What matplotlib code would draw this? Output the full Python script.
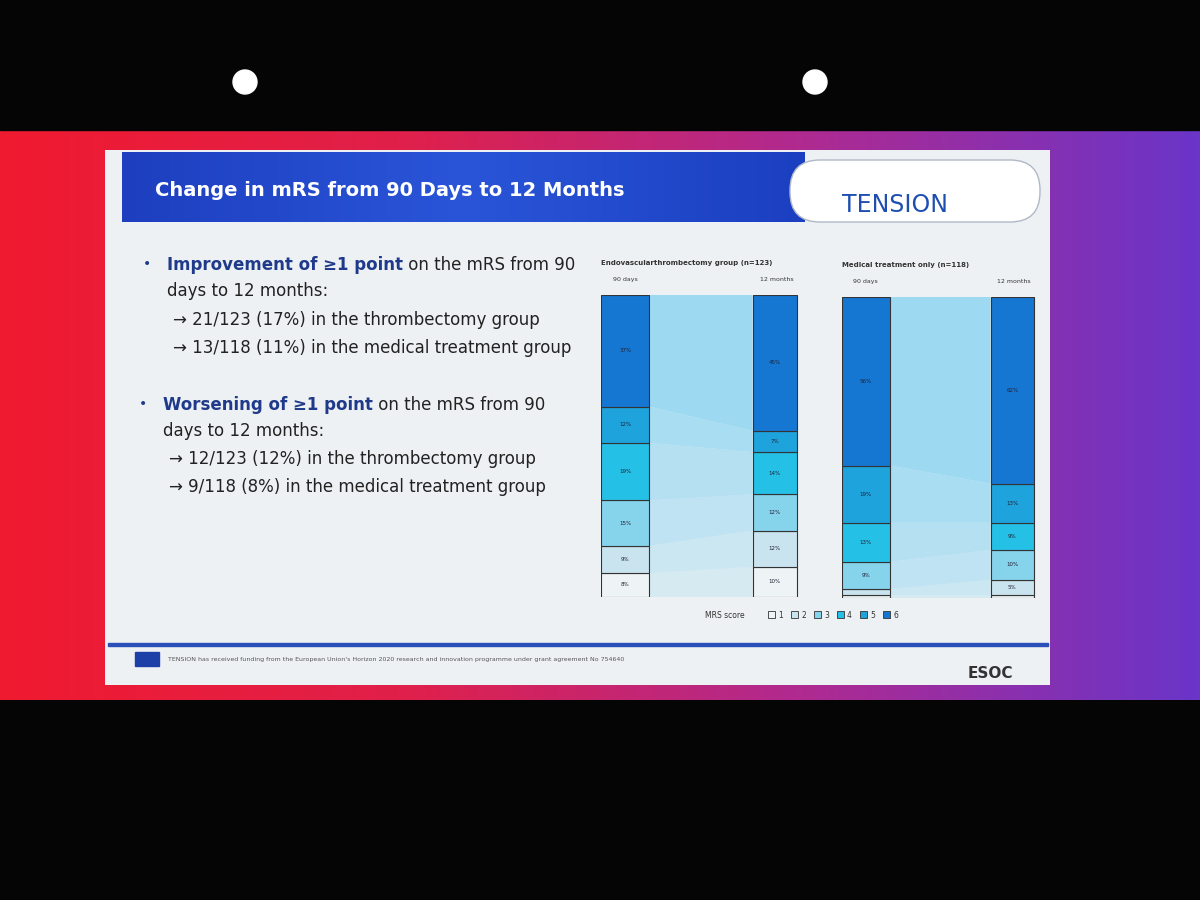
import numpy as np
import matplotlib
matplotlib.use("Agg")
import matplotlib.pyplot as plt
from matplotlib.patches import Rectangle, Polygon, FancyBboxPatch
from matplotlib.colors import LinearSegmentedColormap

# ---- data (percentages, mRS 1..6 bottom to top) ----
mrs_scores = ["1", "2", "3", "4", "5", "6"]
evt_90d = [8, 9, 15, 19, 12, 37]
evt_12m = [10, 12, 12, 14, 7, 45]
med_90d = [1, 2, 9, 13, 19, 56]
med_12m = [1, 5, 10, 9, 13, 62]
group_titles = ["Endovascularthrombectomy group (n=123)", "Medical treatment only (n=118)"]
time_labels = ["90 days", "12 months"]

colors = ["#eef3f5", "#c9e3ef", "#86d3ec", "#25c0e6", "#1ea3dc", "#1677d2"]
flow_col = "#8fd6f2"

W, H = 1200, 900
fig = plt.figure(figsize=(12, 9), dpi=100)
fig.patch.set_facecolor("#050505")

def px(x0, y0, x1, y1):
    return [x0 / W, 1 - y1 / H, (x1 - x0) / W, (y1 - y0) / H]

bg = fig.add_axes([0, 0, 1, 1]); bg.set_xlim(0, W); bg.set_ylim(H, 0); bg.axis("off")
grad = np.linspace(0, 1, 256)[None, :]
cm = LinearSegmentedColormap.from_list("b", ["#f01a30", "#e0204a", "#b02a90", "#6a35c8"])
bg.imshow(grad, extent=[0, W, 700, 130], aspect="auto", cmap=cm, zorder=0)
bg.add_patch(Rectangle((0, 0), W, 130, color="#050505", zorder=0.5))
for cx in (245, 815):
    bg.add_patch(plt.Circle((cx, 82), 12, color="white", zorder=1))
bg.add_patch(Rectangle((105, 150), 945, 535, facecolor="#eef1f3", edgecolor="none", zorder=1))
tcm = LinearSegmentedColormap.from_list("t", ["#1d3fbf", "#2a55d8", "#1b3fc0"])
bg.imshow(grad, extent=[122, 805, 222, 152], aspect="auto", cmap=tcm, zorder=2)
bg.add_patch(FancyBboxPatch((790, 160), 250, 62, boxstyle="round,pad=0,rounding_size=30",
                            facecolor="white", edgecolor="#b0b8c8", zorder=2.5))
bg.text(155, 190, "Change in mRS from 90 Days to 12 Months", color="white", fontsize=14,
        fontweight="bold", va="center", zorder=3)
bg.text(895, 205, "TENSION", color="#1e4fb0", fontsize=17, va="center", ha="center", zorder=3)
bg.add_patch(Rectangle((108, 643), 940, 3, color="#2a4fb8", zorder=2))
bg.add_patch(Rectangle((135, 652), 24, 14, color="#1d3fa8", zorder=2))
bg.text(168, 659, "TENSION has received funding from the European Union's Horizon 2020 research and innovation programme under grant agreement No 754640",
        fontsize=4.5, color="#555", va="center", zorder=3)
bg.text(990, 674, "ESOC", fontsize=11, color="#333", fontweight="bold", va="center", ha="center", zorder=3)

txt = "#1f3a8a"
fs = 12
def bullet(x, y, bold, rest):
    bg.text(x - 24, y - 1, "•", fontsize=10, color=txt, va="center", zorder=3)
    t = bg.text(x, y, bold, fontsize=fs, color=txt, fontweight="bold", va="center", zorder=3)
    bg.annotate(rest, xy=(1, 0.5), xycoords=t, va="center", ha="left", fontsize=fs, color="#222", zorder=3)

bullet(167, 265, "Improvement of ≥1 point", " on the mRS from 90")
bg.text(167, 291, "days to 12 months:", fontsize=fs, color="#222", va="center", zorder=3)
bg.text(173, 320, "→ 21/123 (17%) in the thrombectomy group", fontsize=fs, color="#222", va="center", zorder=3)
bg.text(173, 348, "→ 13/118 (11%) in the medical treatment group", fontsize=fs, color="#222", va="center", zorder=3)
bullet(163, 405, "Worsening of ≥1 point", " on the mRS from 90")
bg.text(163, 431, "days to 12 months:", fontsize=fs, color="#222", va="center", zorder=3)
bg.text(169, 459, "→ 12/123 (12%) in the thrombectomy group", fontsize=fs, color="#222", va="center", zorder=3)
bg.text(169, 487, "→ 9/118 (8%) in the medical treatment group", fontsize=fs, color="#222", va="center", zorder=3)

def panel(rect, left, right, title):
    ax = fig.add_axes(px(*rect))
    ax.set_xlim(0, 1); ax.set_ylim(0, 100); ax.axis("off")
    lw, rx = 0.24, 0.75
    lc = np.concatenate([[0], np.cumsum(left)])
    rc = np.concatenate([[0], np.cumsum(right)])
    for i in range(6):
        ax.add_patch(Polygon([(lw, lc[i]), (rx, rc[i]), (rx, rc[i + 1]), (lw, lc[i + 1])],
                             closed=True, facecolor=flow_col, alpha=0.25 + 0.12 * i, edgecolor="none"))
        for (x0, w, c, v) in ((0, lw, lc, left[i]), (rx, 1 - rx - 0.03, rc, right[i])):
            ax.add_patch(Rectangle((x0, c[i]), w, v, facecolor=colors[i], edgecolor="#333", lw=0.8))
            if v >= 4:
                ax.text(x0 + w / 2, c[i] + v / 2, f"{v}%", fontsize=4, ha="center", va="center", color="#223")
    ax.text(0.0, 110, title, fontsize=5, fontweight="bold", color="#333", clip_on=False)
    ax.text(0.12, 104.5, time_labels[0], fontsize=4.5, color="#333", ha="center", clip_on=False)
    ax.text(0.87, 104.5, time_labels[1], fontsize=4.5, color="#333", ha="center", clip_on=False)

panel((601, 295, 803, 597), evt_90d, evt_12m, group_titles[0])
panel((842, 297, 1040, 598), med_90d, med_12m, group_titles[1])

bg.text(705, 615, "MRS score", fontsize=5.5, color="#333", va="center", zorder=3)
x = 768
for s, c in zip(mrs_scores, colors):
    bg.add_patch(Rectangle((x, 611), 7, 7, facecolor=c, edgecolor="#333", lw=0.6, zorder=3))
    bg.text(x + 10, 615, s, fontsize=5.5, color="#333", va="center", zorder=3)
    x += 23

fig.savefig("out.png", dpi=100, facecolor=fig.get_facecolor())
